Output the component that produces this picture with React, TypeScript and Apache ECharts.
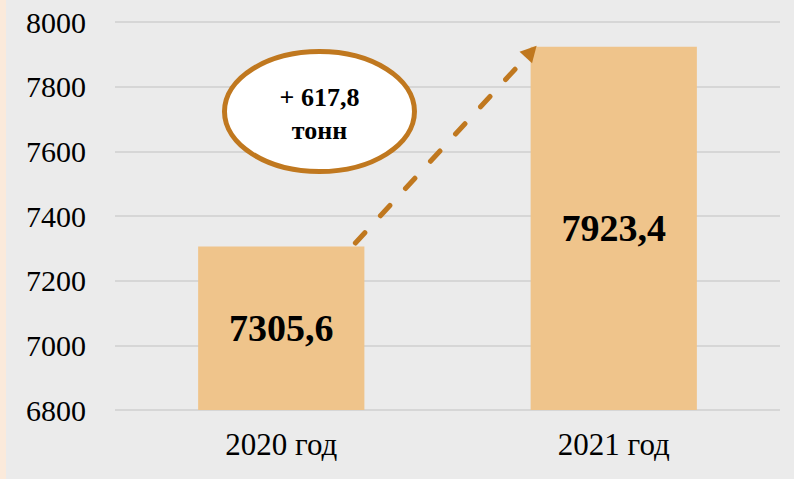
import React, { useEffect, useRef } from "react";
import * as echarts from "echarts";

const categories = ["2020 год", "2021 год"];
const values = [7305.6, 7923.4];
const valueLabels = ["7305,6", "7923,4"];
const diffLabel = ["+ 617,8", "тонн"];
const yMin = 6800;
const yMax = 8000;
const yStep = 200;

const FONT = "'Liberation Serif', 'Times New Roman', serif";
const ACCENT = "#c0781f";

export default function App() {
  const ref = useRef<HTMLDivElement>(null);
  useEffect(() => {
    document.body.style.margin = "0";
    const el = ref.current!;
    const chart = echarts.init(el, undefined, { renderer: "svg" });
    chart.setOption({
      animation: false,
      backgroundColor: "transparent",
      grid: { left: 115, right: 14, top: 22, bottom: 69 },
      xAxis: {
        type: "category",
        data: categories,
        axisLine: { show: false },
        axisTick: { show: false },
        axisLabel: { color: "#000", fontFamily: FONT, fontSize: 31, margin: 19 },
      },
      yAxis: {
        type: "value",
        min: yMin,
        max: yMax,
        interval: yStep,
        axisLine: { show: false },
        axisTick: { show: false },
        splitLine: { lineStyle: { color: "#d6d6d6", width: 2 } },
        axisLabel: {
          color: "#000",
          fontFamily: FONT,
          fontSize: 30,
          margin: 29,
          formatter: (v: number) => String(v),
        },
      },
      series: [
        {
          type: "bar",
          data: values,
          barWidth: "50%",
          itemStyle: { color: "#efc48b" },
          label: {
            show: true,
            position: "inside",
            formatter: (p: any) => valueLabels[p.dataIndex],
            color: "#000",
            fontFamily: FONT,
            fontWeight: "bold",
            fontSize: 38,
          },
        },
      ],
    });

    const p1 = chart.convertToPixel({ gridIndex: 0 }, [0, values[0]]) as number[];
    const p2 = chart.convertToPixel({ gridIndex: 0 }, [1, values[1]]) as number[];
    const bw = (p2[0] - p1[0]) / 2;
    const sx = p1[0] + bw * 0.446;
    const sy = p1[1] - 3.5;
    const tx = p2[0] - bw * 0.464;
    const ty = p2[1] - 1;
    const dx = tx - sx;
    const dy = ty - sy;
    const len = Math.sqrt(dx * dx + dy * dy);
    const ux = dx / len;
    const uy = dy / len;
    const nx = -uy;
    const ny = ux;
    const headLen = 16;
    const headW = 8.5;
    const bx = tx - ux * headLen;
    const by = ty - uy * headLen;
    const ex = tx - ux * (headLen + 6);
    const ey = ty - uy * (headLen + 6);

    const ec = chart.convertToPixel({ gridIndex: 0 }, [0, 7723]) as number[];
    const cx = ec[0] + bw * 0.23;
    const cy = ec[1];

    chart.setOption({
      graphic: [
        {
          type: "line",
          shape: { x1: sx, y1: sy, x2: ex, y2: ey },
          style: { stroke: ACCENT, lineWidth: 5, lineDash: [14, 23], lineCap: "round" },
          z: 10,
        },
        {
          type: "polygon",
          shape: {
            points: [
              [tx, ty],
              [bx + nx * headW, by + ny * headW],
              [bx - nx * headW, by - ny * headW],
            ],
          },
          style: { fill: ACCENT },
          z: 10,
        },
        {
          type: "ellipse",
          shape: { cx, cy, rx: 95, ry: 60 },
          style: { fill: "#fff", stroke: ACCENT, lineWidth: 5 },
          z: 10,
        },
        {
          type: "text",
          x: cx,
          y: cy - 14,
          style: {
            text: diffLabel[0],
            fill: "#000",
            font: `bold 26px ${FONT}`,
            align: "center",
            verticalAlign: "middle",
          },
          z: 11,
        },
        {
          type: "text",
          x: cx,
          y: cy + 19,
          style: {
            text: diffLabel[1],
            fill: "#000",
            font: `bold 26px ${FONT}`,
            align: "center",
            verticalAlign: "middle",
          },
          z: 11,
        },
      ],
    });

    return () => chart.dispose();
  }, []);

  return (
    <div
      style={{
        width: 794,
        height: 479,
        background: "#ebebeb",
        position: "relative",
        boxSizing: "border-box",
        borderLeft: "6px solid #fbeadb",
      }}
    >
      <div ref={ref} style={{ position: "absolute", left: -6, top: 0, width: 794, height: 479 }} />
    </div>
  );
}
